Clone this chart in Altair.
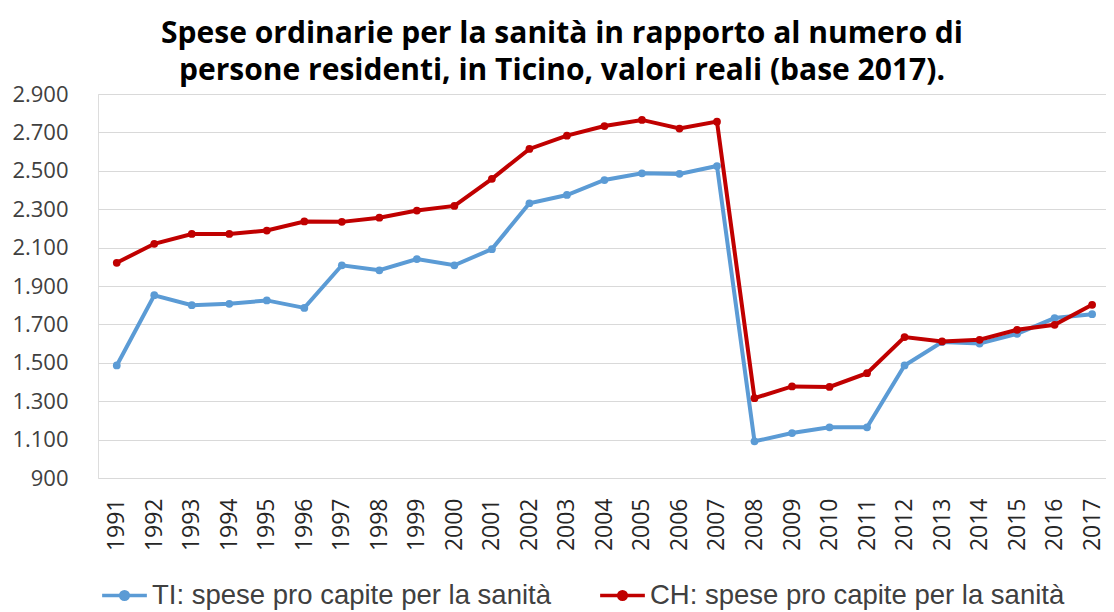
import altair as alt
import pandas as pd

years = list(range(1991, 2018))
ti_values = [1486, 1852, 1800, 1807, 1825, 1786, 2008, 1982, 2040, 2008, 2092, 2331, 2374,
             2452, 2487, 2484, 2525, 1091, 1134, 1164, 1164, 1486, 1608, 1600, 1651, 1733, 1753]
ch_values = [2021, 2120, 2171, 2171, 2189, 2236, 2234, 2256, 2293, 2317, 2458, 2614, 2683,
             2733, 2765, 2720, 2756, 1316, 1377, 1374, 1446, 1634, 1611, 1620, 1672, 1698, 1802]
series_names = ["TI: spese pro capite per la sanità", "CH: spese pro capite per la sanità"]
series_colors = ["#5B9BD5", "#C00000"]
title_lines = ["Spese ordinarie per la sanità in rapporto al numero di",
               "persone residenti, in Ticino, valori reali (base 2017)."]
y_ticks = list(range(900, 3000, 200))

df = pd.DataFrame({
    "anno": years * 2,
    "valore": ti_values + ch_values,
    "serie": [series_names[0]] * len(years) + [series_names[1]] * len(years),
})

legend = alt.Legend(
    title=None,
    orient="none",
    legendX=2,
    legendY=477,
    direction="horizontal",
    columns=2,
    columnPadding=42,
    symbolType="M-1,0H1M-0.17,0a0.17,0.17 0 1,0 0.34,0a0.17,0.17 0 1,0 -0.34,0",
    symbolSize=2000,
    symbolStrokeWidth=3.5,
    labelFont="Liberation Sans",
    labelFontSize=27.5,
    labelColor="#404040",
    labelOffset=3,
    labelLimit=600,
)
scale = alt.Scale(domain=series_names, range=series_colors)

x = alt.X(
    "anno:Q",
    scale=alt.Scale(domain=[1990.5, 2017.37], nice=False, zero=False),
    axis=alt.Axis(
        values=years, format="d", labelAngle=-90, title=None, ticks=False, domain=False,
        grid=False, labelFont="Open Sans", labelFontSize=23, labelColor="#262626",
        labelPadding=20, labelFlush=False, labelOverlap=False,
    ),
)
y = alt.Y(
    "valore:Q",
    scale=alt.Scale(domain=[900, 2900], nice=False, zero=False),
    axis=alt.Axis(
        values=y_ticks, title=None, ticks=False, domain=False,
        labelExpr="replace(format(datum.value, ','), ',', '.')",
        labelFont="Open Sans", labelFontSize=22, labelColor="#404040", labelPadding=30,
        gridColor="#D9D9D9", gridWidth=1.2,
    ),
)

def layers(name):
    base = alt.Chart(df).transform_filter(alt.datum.serie == name)
    line = base.mark_line(strokeWidth=4, clip=False).encode(
        x=x, y=y, stroke=alt.Stroke("serie:N", scale=scale, legend=legend))
    pts = base.mark_circle(size=60, opacity=1, clip=False).encode(
        x=x, y=y, fill=alt.Fill("serie:N", scale=scale, legend=legend))
    return [line, pts]

chart = alt.layer(*layers(series_names[0]), *layers(series_names[1])).properties(
    width=1008,
    height=384,
    padding={"left": 90, "top": 86, "right": 0, "bottom": 134},
    autosize=alt.AutoSizeParams(type="none"),
    title=alt.TitleParams(
        text=title_lines,
        font="Open Sans",
        fontSize=30,
        fontWeight="bold",
        color="#000000",
        anchor="middle",
        dx=-40,
        dy=3,
        offset=0,
        lineHeight=37,
    ),
).configure_view(stroke=None).configure(background="white")

chart.save("out.html", embed_options={"renderer": "svg", "actions": False})
